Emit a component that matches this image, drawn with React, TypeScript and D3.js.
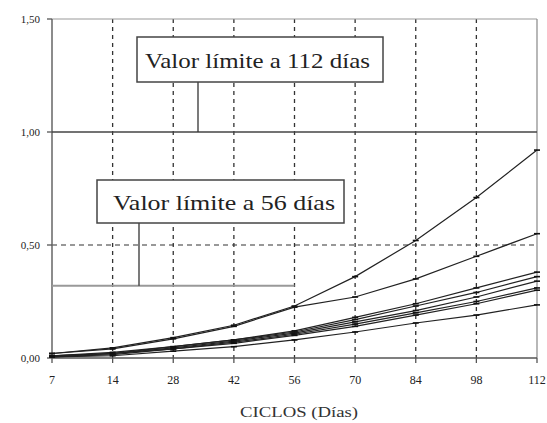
import React from "react";
import * as d3 from "d3";

const cycles = ["7", "14", "28", "42", "56", "70", "84", "98", "112"];
const yTicks = [0, 0.5, 1.0, 1.5];

const s1 = [0.02, 0.045, 0.09, 0.145, 0.23, 0.36, 0.52, 0.71, 0.92];
const s2 = [0.02, 0.04, 0.085, 0.14, 0.225, 0.27, 0.35, 0.45, 0.55];
const s3 = [0.01, 0.025, 0.05, 0.08, 0.12, 0.18, 0.24, 0.31, 0.38];
const s4 = [0.01, 0.02, 0.05, 0.08, 0.115, 0.17, 0.23, 0.29, 0.36];
const s5 = [0.01, 0.02, 0.045, 0.075, 0.11, 0.16, 0.21, 0.27, 0.34];
const s6 = [0.005, 0.02, 0.04, 0.07, 0.105, 0.15, 0.2, 0.25, 0.31];
const s7 = [0.005, 0.015, 0.04, 0.065, 0.1, 0.14, 0.19, 0.24, 0.3];
const s8 = [0.005, 0.01, 0.03, 0.05, 0.08, 0.115, 0.155, 0.19, 0.235];
const seriesList = [s1, s2, s3, s4, s5, s6, s7, s8];

const limit112 = 1.0;
const limit56 = 0.32;
const label112 = "Valor límite a 112 días";
const label56 = "Valor límite a 56 días";
const xTitle = "CICLOS (Días)";

const W = 547;
const H = 423;
const left = 52;
const right = 537;
const top = 19;
const bottom = 358;

const serif = "'Liberation Serif', serif";

export default function App() {
  const x = d3.scalePoint<string>().domain(cycles).range([left, right]);
  const y = d3.scaleLinear().domain([0, 1.5]).range([bottom, top]);
  const line = d3
    .line<number>()
    .x((_, i) => x(cycles[i]) as number)
    .y((d) => y(d));
  const fmt = (v: number) => v.toFixed(2).replace(".", ",");

  const x56 = x("56") as number;
  const x112 = x("112") as number;

  return (
    <svg
      width={W}
      height={H}
      style={{ position: "absolute", left: 0, top: 0, background: "#fff", fontFamily: serif }}
    >
      <rect x={0} y={0} width={W} height={H} fill="#fff" />
      {/* vertical gridlines */}
      {cycles.slice(1, -1).map((c) => (
        <line
          key={c}
          x1={x(c)}
          x2={x(c)}
          y1={top}
          y2={bottom}
          stroke="#333"
          strokeWidth={1.3}
          strokeDasharray="4,4"
        />
      ))}
      {/* 0,50 dashed gridline */}
      <line x1={left} x2={right} y1={y(0.5)} y2={y(0.5)} stroke="#333" strokeWidth={1.2} strokeDasharray="5,4" />
      {/* frame */}
      <line x1={left} x2={right} y1={top} y2={top} stroke="#999" strokeWidth={1.2} />
      <line x1={right} x2={right} y1={top} y2={bottom} stroke="#888" strokeWidth={1.2} />
      <line x1={left} x2={left} y1={top} y2={bottom} stroke="#666" strokeWidth={1.5} />
      <line x1={left} x2={right} y1={bottom} y2={bottom} stroke="#555" strokeWidth={1.5} />
      {/* limit at 112 days */}
      <line x1={left} x2={x112} y1={y(limit112)} y2={y(limit112)} stroke="#444" strokeWidth={1.5} />
      {/* limit at 56 days */}
      <line x1={left} x2={x56} y1={y(limit56)} y2={y(limit56)} stroke="#999" strokeWidth={2} />

      {/* y ticks */}
      {yTicks.map((t) => (
        <g key={t}>
          <line x1={left - 5} x2={left} y1={y(t)} y2={y(t)} stroke="#555" strokeWidth={1.3} />
          <text x={40} y={y(t) + 4} fontSize={11} textAnchor="end" fill="#222" style={{ fontFamily: serif }}>
            {fmt(t)}
          </text>
        </g>
      ))}
      {/* x ticks */}
      {cycles.map((c) => (
        <g key={c}>
          <line x1={x(c)} x2={x(c)} y1={bottom} y2={bottom + 5} stroke="#555" strokeWidth={1.3} />
          <text x={x(c)} y={bottom + 26} fontSize={12} textAnchor="middle" fill="#222" style={{ fontFamily: serif }}>
            {c}
          </text>
        </g>
      ))}
      <text
        x={299}
        y={417}
        fontSize={15}
        textAnchor="middle"
        fill="#333"
        textLength={118}
        lengthAdjust="spacingAndGlyphs"
        style={{ fontFamily: serif }}
      >
        {xTitle}
      </text>

      {/* series */}
      {seriesList.map((s, i) => (
        <g key={i}>
          <path d={line(s) ?? ""} fill="none" stroke="#222" strokeWidth={1.2} />
          {s.map((v, j) => (
            <line
              key={j}
              x1={(x(cycles[j]) as number) - 3}
              x2={(x(cycles[j]) as number) + 3}
              y1={y(v)}
              y2={y(v)}
              stroke="#111"
              strokeWidth={1.6}
            />
          ))}
        </g>
      ))}

      {/* annotation boxes */}
      <line x1={198} x2={198} y1={82} y2={y(limit112)} stroke="#333" strokeWidth={1.3} />
      <rect x={137} y={37} width={246} height={45} fill="#fff" stroke="#444" strokeWidth={1.5} />
      <text
        x={145}
        y={68}
        fontSize={22}
        fill="#222"
        textLength={225}
        lengthAdjust="spacingAndGlyphs"
        style={{ fontFamily: serif }}
      >
        {label112}
      </text>

      <line x1={139} x2={139} y1={223} y2={y(limit56)} stroke="#333" strokeWidth={1.3} />
      <rect x={97} y={180} width={247} height={43} fill="#fff" stroke="#444" strokeWidth={1.5} />
      <text
        x={113}
        y={210}
        fontSize={22}
        fill="#222"
        textLength={222}
        lengthAdjust="spacingAndGlyphs"
        style={{ fontFamily: serif }}
      >
        {label56}
      </text>
    </svg>
  );
}
